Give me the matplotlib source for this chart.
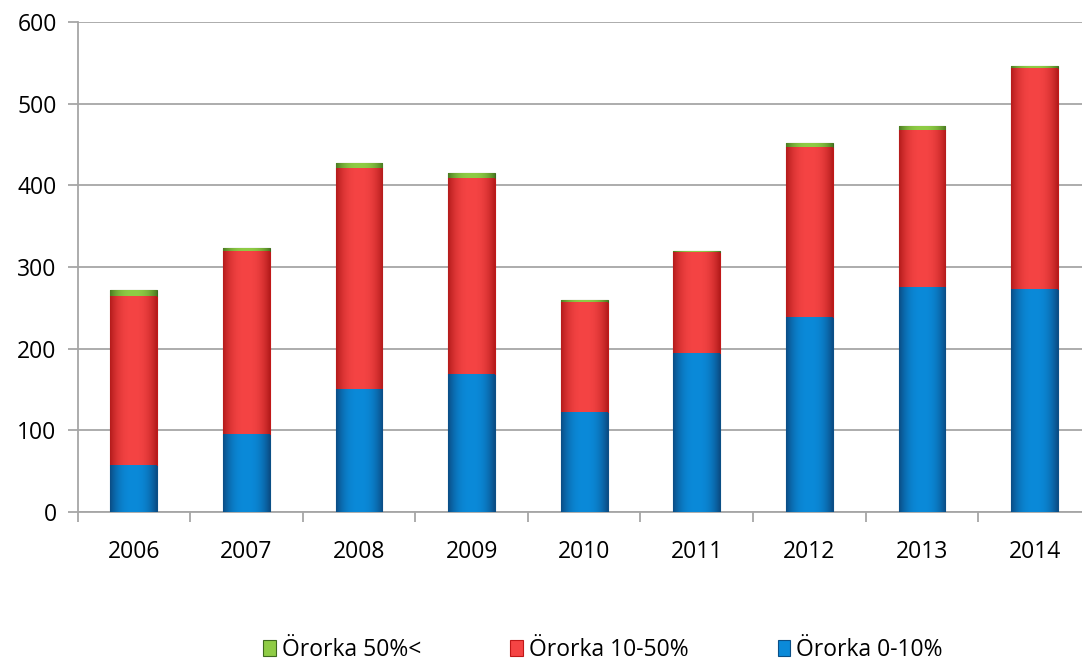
import matplotlib
matplotlib.use("Agg")
import matplotlib.pyplot as plt
import numpy as np
from matplotlib.colors import to_rgb

years = ["2006", "2007", "2008", "2009", "2010", "2011", "2012", "2013", "2014"]
blue_0_10 = [57, 95, 151, 169, 123, 195, 239, 276, 273]
red_10_50 = [208, 224, 270, 240, 134, 123, 208, 192, 271]
green_50 = [7, 4, 6, 6, 2, 1, 5, 5, 2]

labels = ["Örorka 50%<", "Örorka 10-50%", "Örorka 0-10%"]

plt.rcParams['font.family'] = ['Open Sans', 'DejaVu Sans']

W, H = 1082, 662
fig = plt.figure(figsize=(W / 100, H / 100), dpi=100)
left = 77.5
step = 112.6
ax = fig.add_axes([left / W, 1 - 512 / H, 9 * step / W, (512 - 22) / H])

x = np.arange(len(years))
w = 0.415
b = np.array(blue_0_10)
r = np.array(red_10_50)
g = np.array(green_50)

styles = {
    "blue": ("#0b8ad9", "#0a4d86", "#0b4f86"),
    "red": ("#f54444", "#b51c1c", "#c01818"),
    "green": ("#8fcc45", "#4c7d22", "#3f6a1e"),
}

hb = ax.bar(x, b, w, color=styles["blue"][0], edgecolor=styles["blue"][2], linewidth=0.8, zorder=3, label=labels[2])
hr = ax.bar(x, r, w, bottom=b, color=styles["red"][0], edgecolor=styles["red"][2], linewidth=0.8, zorder=3, label=labels[1])
hg = ax.bar(x, g, w, bottom=b + r, color=styles["green"][0], edgecolor=styles["green"][2], linewidth=0.8, zorder=3, label=labels[0])


def shade(container, light, dark):
    lc = np.array(to_rgb(light))
    dc = np.array(to_rgb(dark))
    t = np.linspace(-1, 1, 64)
    f = np.abs(t) ** 2.5
    row = lc[None, :] * (1 - f[:, None]) + dc[None, :] * f[:, None]
    img = row[None, :, :]
    for p in container.patches:
        x0, y0 = p.get_x(), p.get_y()
        pw, ph = p.get_width(), p.get_height()
        im = ax.imshow(img, extent=[x0, x0 + pw, y0, y0 + ph], aspect="auto",
                       zorder=3.2, interpolation="bilinear")
        im.set_clip_path(p)


shade(hb, styles["blue"][0], styles["blue"][1])
shade(hr, styles["red"][0], styles["red"][1])
shade(hg, styles["green"][0], styles["green"][1])

ax.set_ylim(0, 600)
ax.set_xlim(-0.5, len(years) - 0.5)
ax.set_yticks(range(0, 601, 100))
ax.yaxis.grid(True, color="#a6a6a6", linewidth=1.3, zorder=0)
ax.set_axisbelow(True)

ax.set_xticks(x)
ax.set_xticklabels(years)
ax.set_xticks(np.arange(-0.5, len(years), 1), minor=True)
ax.tick_params(axis='x', which='major', length=0, pad=20, labelsize=16.5)
ax.tick_params(axis='x', which='minor', length=7, color="#a6a6a6", width=1.3)
ax.tick_params(axis='y', length=7, color="#a6a6a6", width=1.3, labelsize=16.5, pad=8)

for s in ["top", "right"]:
    ax.spines[s].set_visible(False)
for s in ["left", "bottom"]:
    ax.spines[s].set_color("#a6a6a6")
    ax.spines[s].set_linewidth(1.3)

fig.legend([hg, hr, hb], labels, loc="center", bbox_to_anchor=(603 / W, 1 - 650 / H),
           ncol=3, frameon=False, fontsize=16.5, handlelength=0.55, handleheight=0.7,
           handletextpad=0.25, columnspacing=3.9)

fig.savefig("out.png", dpi=100)
